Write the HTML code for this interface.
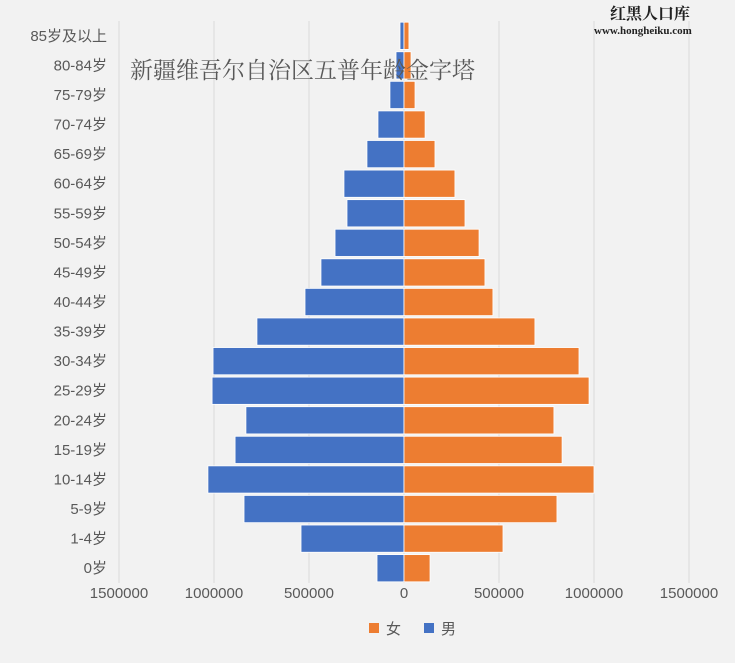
<!DOCTYPE html>
<html><head><meta charset="utf-8">
<style>
body{margin:0;background:#f2f2f2;}
svg{display:block;font-family:"Liberation Sans","Noto Sans CJK SC",sans-serif;}
</style></head>
<body>
<svg id="chart" width="735" height="663" viewBox="0 0 735 663">
<rect x="0" y="0" width="735" height="663" fill="#f2f2f2"/>
<g id="grid"></g>
<g id="bars"></g>
<g id="ylabels"></g>
<g id="xlabels"></g>
<text x="130" y="78" font-size="23" fill="#595959" font-family="'Liberation Serif','Noto Serif CJK SC',serif">新疆维吾尔自治区五普年龄金字塔</text>
<text x="610" y="19" font-size="16" font-weight="bold" fill="#222" font-family="'Liberation Serif','Noto Serif CJK SC',serif">红黑人口库</text>
<text x="594" y="34" font-size="11" font-weight="bold" fill="#222" font-family="'Liberation Serif',serif">www.hongheiku.com</text>
<g>
<rect x="369" y="623" width="10" height="10" fill="#ed7d31"/>
<text x="386" y="634" font-size="15" fill="#595959">女</text>
<rect x="424" y="623" width="10" height="10" fill="#4472c4"/>
<text x="441" y="634" font-size="15" fill="#595959">男</text>
</g>
</svg>
<script>
const categories=["0岁","1-4岁","5-9岁","10-14岁","15-19岁","20-24岁","25-29岁","30-34岁","35-39岁","40-44岁","45-49岁","50-54岁","55-59岁","60-64岁","65-69岁","70-74岁","75-79岁","80-84岁","85岁及以上"];
const male=[142000,542000,842000,1032000,889000,832000,1010000,1005000,774000,521000,437000,363000,300000,316000,195000,137000,74000,42000,21000];
const female=[137000,521000,805000,1000000,832000,789000,974000,921000,689000,468000,426000,395000,321000,268000,163000,111000,58000,37000,26000];
const tickValues=[-1500000,-1000000,-500000,0,500000,1000000,1500000];
const tickLabels=["1500000","1000000","500000","0","500000","1000000","1500000"];
const NS="http://www.w3.org/2000/svg";
const x0=404, pxPerUnit=190/1000000, plotTop=21, plotBottom=583;
const rowH=(plotBottom-plotTop)/categories.length;
function xs(v){return x0+v*pxPerUnit;}
function yc(i){return plotBottom-(i+0.5)*rowH;}
function mk(tag,attrs,parent){const e=document.createElementNS(NS,tag);for(const k in attrs)e.setAttribute(k,attrs[k]);parent.appendChild(e);return e;}
const grid=document.getElementById('grid'),bars=document.getElementById('bars'),yl=document.getElementById('ylabels'),xl=document.getElementById('xlabels');
tickValues.forEach((v,i)=>{
 const l=mk('line',{x1:xs(v),x2:xs(v),y1:plotTop,y2:plotBottom,stroke:'#d9d9d9','stroke-width':1},grid);
 
 
 const t=mk('text',{x:xs(v),y:598,'font-size':15,fill:'#595959','text-anchor':'middle'},xl);
 t.textContent=tickLabels[i];
 
 
});
const bh=rowH*0.92;
categories.forEach((c,i)=>{
 const y=yc(i)-bh/2;
 const m=mk('rect',{x:xs(-male[i]),y:y,width:xs(0)-xs(-male[i]),height:bh,fill:'#4472c4',stroke:'#fff','stroke-width':0.8},bars);
 
 
 const f=mk('rect',{x:xs(0),y:y,width:xs(female[i])-xs(0),height:bh,fill:'#ed7d31',stroke:'#fff','stroke-width':0.8},bars);
 
 
 const t=mk('text',{x:107,y:yc(i)+5,'font-size':15,fill:'#595959','text-anchor':'end'},yl);
 t.textContent=c;
 
 
});
const ax=mk('line',{x1:x0,x2:x0,y1:plotTop,y2:plotBottom,stroke:'#d9d9d9','stroke-width':1},grid);


</script>
</body></html>
